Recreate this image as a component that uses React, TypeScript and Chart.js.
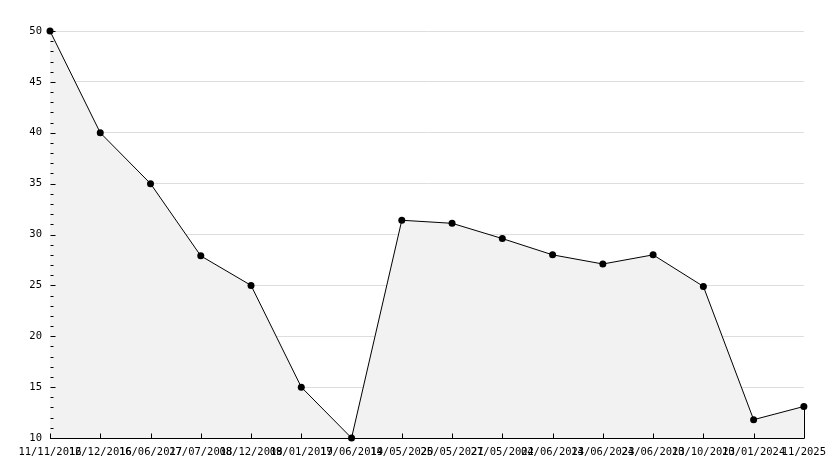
import React, { useEffect, useRef } from "react";
import { Chart, registerables } from "chart.js";

Chart.register(...registerables);

const categories = [
  "11/11/2016", "12/12/2016", "16/06/2017", "27/07/2018", "08/12/2018",
  "09/01/2019", "17/06/2019", "14/05/2020", "25/05/2021", "27/05/2022",
  "04/06/2023", "14/06/2023", "24/06/2023", "10/10/2023", "10/01/2024", "11/2025",
];
const values = [50, 40, 35, 27.9, 25, 15, 10, 31.4, 31.1, 29.6, 28, 27.1, 28, 24.9, 11.8, 13.1];
const yMin = 10;
const yMax = 50;
const yMajorStep = 5;

const FONT = "'DejaVu Sans Mono', monospace";

const tickPlugin = {
  id: "innerTicks",
  afterDatasetsDraw(chart: any) {
    const { ctx, scales } = chart;
    const x = scales.x;
    const y = scales.y;
    const bottom = Math.round(y.getPixelForValue(yMin)) + 0.5;
    const left = Math.round(x.getPixelForValue(0)) + 0.5;
    ctx.save();
    ctx.strokeStyle = "#000";
    ctx.lineWidth = 1;
    ctx.beginPath();
    for (let i = 0; i < categories.length; i++) {
      const px = Math.round(x.getPixelForValue(i)) + 0.5;
      ctx.moveTo(px, bottom);
      ctx.lineTo(px, bottom - 5);
    }
    for (let v = yMin; v <= yMax; v++) {
      const py = Math.round(y.getPixelForValue(v)) + 0.5;
      const len = v % yMajorStep === 0 ? 5 : 3;
      ctx.moveTo(left, py);
      ctx.lineTo(left + len, py);
    }
    const last = values.length - 1;
    const lx = Math.round(x.getPixelForValue(last)) + 0.5;
    ctx.moveTo(lx, y.getPixelForValue(values[last]));
    ctx.lineTo(lx, bottom);
    ctx.stroke();
    ctx.restore();
  },
};

export default function App() {
  const ref = useRef<HTMLCanvasElement>(null);
  useEffect(() => {
    document.body.style.margin = "0";
    const chart = new Chart(ref.current!, {
      type: "line",
      data: {
        labels: categories,
        datasets: [
          {
            data: values,
            borderColor: "#000",
            borderWidth: 1,
            backgroundColor: "#f2f2f2",
            fill: "origin",
            tension: 0,
            clip: false,
            pointRadius: 3.5,
            pointBackgroundColor: "#000",
            pointBorderColor: "#000",
            pointBorderWidth: 0,
          },
        ],
      },
      options: {
        animation: false,
        responsive: false,
        maintainAspectRatio: false,
        layout: { padding: { top: 31, right: 29, left: 0, bottom: 0 } },
        plugins: { legend: { display: false }, tooltip: { enabled: false } },
        scales: {
          x: {
            offset: false,
            grid: { display: false, drawTicks: false },
            border: { color: "#000", width: 1 },
            ticks: {
              autoSkip: false,
              maxRotation: 0,
              minRotation: 0,
              padding: 8,
              color: "#000",
              font: { family: FONT, size: 10.5 },
            },
            afterFit(scale: any) {
              scale.height = 30;
            },
          },
          y: {
            min: yMin,
            max: yMax,
            grid: {
              drawTicks: false,
              color: (c: any) =>
                c.tick && c.tick.value % yMajorStep === 0 && c.tick.value !== yMin ? "#dddddd" : "rgba(0,0,0,0)",
            },
            border: { color: "#000", width: 1 },
            ticks: {
              stepSize: 1,
              autoSkip: false,
              padding: 8,
              color: "#000",
              font: { family: FONT, size: 10.5 },
              callback: (v: any) => (Number(v) % yMajorStep === 0 ? String(v) : ""),
            },
            afterFit(scale: any) {
              scale.width = 50;
            },
          },
        },
      },
      plugins: [tickPlugin],
    });
    return () => chart.destroy();
  }, []);
  return (
    <div style={{ position: "absolute", left: 0, top: 0, width: 834, height: 468, background: "#fff" }}>
      <canvas ref={ref} width={834} height={468} style={{ width: 834, height: 468 }} />
    </div>
  );
}
